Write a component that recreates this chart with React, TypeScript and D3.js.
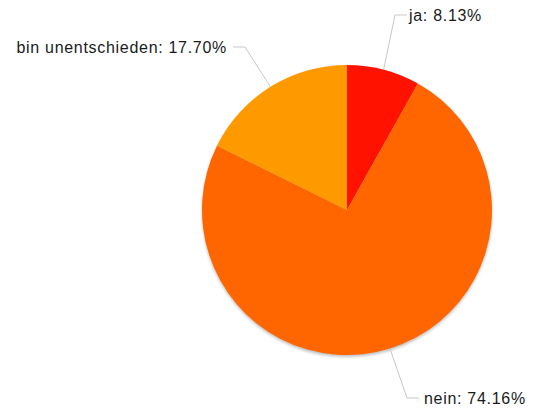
import React from 'react';
import * as d3 from 'd3';

const categories = ['ja', 'nein', 'bin unentschieden'];
const shares = [8.13, 74.16, 17.70];
const colors = ['#ff1300', '#ff6600', '#ff9900'];

// label layout: elbow point, line end, text offset
const labelLayout = [
  {elbow: [395, 15], end: [407, 15], anchor: 'start', gap: 2},
  {elbow: [407, 398], end: [419, 398], anchor: 'start', gap: 5},
  {elbow: [245, 47], end: [233, 47], anchor: 'end', gap: 6},
];

const width = 534, height = 408;
const cx = 347, cy = 210, radius = 145;

const App: React.FC = () => {
  const data = categories.map((c, i) => ({name: c, value: shares[i], color: colors[i]}));
  const pie = d3.pie<{name: string, value: number, color: string}>()
    .value(d => d.value)
    .sort(null);
  const arcs = pie(data);
  const arc = d3.arc<d3.PieArcDatum<any>>().innerRadius(0).outerRadius(radius);

  return (
    <svg width={width} height={height}
         style={{position: 'absolute', left: 0, top: 0, fontFamily: '"Liberation Sans", Arial, sans-serif'}}>
      <defs>
        <filter id="shadow" x="-20%" y="-20%" width="140%" height="140%">
          <feGaussianBlur stdDeviation="1.5"/>
        </filter>
      </defs>
      <rect width={width} height={height} fill="#fff"/>
      <g transform={`translate(${cx},${cy + 2})`}>
        <circle r={radius} fill="#000" opacity={0.25} filter="url(#shadow)"/>
      </g>
      <g transform={`translate(${cx},${cy})`}>
        {arcs.map((a, i) => (
          <path key={i} d={arc(a)!} fill={a.data.color}/>
        ))}
      </g>
      {arcs.map((a, i) => {
        const mid = (a.startAngle + a.endAngle) / 2;
        const sx = cx + radius * Math.sin(mid);
        const sy = cy - radius * Math.cos(mid);
        const l = labelLayout[i];
        return (
          <g key={i}>
            <polyline points={`${sx},${sy} ${l.elbow[0]},${l.elbow[1]} ${l.end[0]},${l.end[1]}`}
                      fill="none" stroke="#c8c8c8" strokeWidth={1}/>
            <text x={l.anchor === 'start' ? l.end[0] + l.gap : l.end[0] - l.gap} y={l.end[1]} dy="0.35em"
                  textAnchor={l.anchor} fontSize={16} letterSpacing={0.7} fill="#1a1a1a">
              {`${a.data.name}: ${a.data.value.toFixed(2)}%`}
            </text>
          </g>
        );
      })}
    </svg>
  );
};

export default App;
